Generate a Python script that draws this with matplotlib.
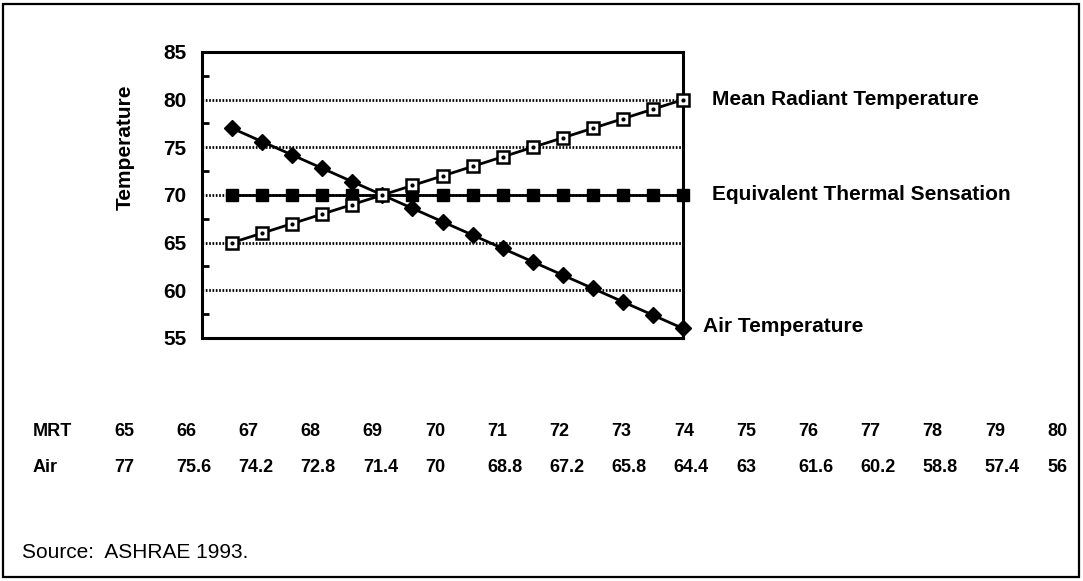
import numpy as np
import matplotlib
matplotlib.use("Agg")
import matplotlib.pyplot as plt
from matplotlib.patches import Rectangle

plt.rcParams['font.family'] = ['Liberation Sans', 'DejaVu Sans']

# values
mrt = [65, 66, 67, 68, 69, 70, 71, 72, 73, 74, 75, 76, 77, 78, 79, 80]
air = [77, 75.6, 74.2, 72.8, 71.4, 70, 68.6, 67.2, 65.8, 64.4, 63, 61.6,
       60.2, 58.8, 57.4, 56]
ets = [70, 70, 70, 70, 70, 70, 70, 70, 70, 70, 70, 70, 70, 70, 70, 70]

# table under the chart, as printed
mrt_table = ['65', '66', '67', '68', '69', '70', '71', '72', '73', '74',
             '75', '76', '77', '78', '79', '80']
air_table = ['77', '75.6', '74.2', '72.8', '71.4', '70', '68.8', '67.2',
             '65.8', '64.4', '63', '61.6', '60.2', '58.8', '57.4', '56']

series_labels = ['Mean Radiant Temperature', 'Equivalent Thermal Sensation',
                 'Air Temperature']
yticks = [55, 60, 65, 70, 75, 80, 85]

W, H = 1083, 581
fig = plt.figure(figsize=(W / 100, H / 100), dpi=100)
ax = fig.add_axes([202 / W, 1 - 338 / H, 481 / W, 286 / H])

x = np.arange(len(mrt))

# dotted grid
for v in yticks[1:-1]:
    ax.axhline(v, color='black', lw=2, ls=(0, (0.6, 0.6)), zorder=1)

ax.plot(x, air, color='black', lw=2, marker='D', ms=8, mfc='black',
        mec='black', zorder=3, clip_on=False)
ax.plot(x, ets, color='black', lw=2, marker='s', ms=9, mfc='black',
        mec='black', zorder=4, clip_on=False)
ax.plot(x, mrt, color='black', lw=2, marker='s', ms=9, mfc='white',
        mec='black', mew=1.8, zorder=5, clip_on=False)
ax.plot(x, mrt, ls='none', marker='o', ms=2, color='black', zorder=6,
        clip_on=False)

ax.set_xlim(-1, 15)
ax.set_ylim(55, 85)
ax.set_yticks(yticks)
ax.set_yticks([57.5, 62.5, 67.5, 72.5, 77.5, 82.5], minor=True)
ax.set_xticks([])
ax.tick_params(axis='y', which='major', length=0, pad=11, labelsize=15)
ax.tick_params(axis='y', which='minor', direction='in', length=5, width=2)
for lab in ax.get_yticklabels():
    lab.set_fontweight('bold')
for sp in ax.spines.values():
    sp.set_linewidth(2.2)

ax.set_ylabel('Temperature', fontsize=15, fontweight='bold')
ax.yaxis.set_label_coords(-0.14, 0.668)

# series names at the right end
ends = [mrt[-1], ets[-1], air[-1]]
offsets = [(29, 0), (29, 0), (20, 2)]
for name, yv, off in zip(series_labels, ends, offsets):
    ax.annotate(name, xy=(x[-1], yv), xytext=off, textcoords='offset pixels',
                va='center', ha='left', fontsize=15, fontweight='bold')

# table of values
col_x = np.linspace(114, 1047, len(mrt_table))
fig.text(33 / W, 1 - 431 / H, 'MRT', fontsize=13, fontweight='bold',
         va='center')
fig.text(33 / W, 1 - 468 / H, 'Air', fontsize=13, fontweight='bold',
         va='center')
for cx, m, a in zip(col_x, mrt_table, air_table):
    fig.text(cx / W, 1 - 431 / H, m, fontsize=13, fontweight='bold',
             va='center')
    fig.text(cx / W, 1 - 468 / H, a, fontsize=13, fontweight='bold',
             va='center')

fig.text(22 / W, 1 - 553 / H, 'Source:  ASHRAE 1993.', fontsize=15,
         va='center')

# outer frame
fig.add_artist(Rectangle((3 / W, 4 / H), 1076 / W, 573 / H,
                         transform=fig.transFigure, fill=False,
                         edgecolor='black', lw=1.6))

fig.savefig('out.png', dpi=100)
